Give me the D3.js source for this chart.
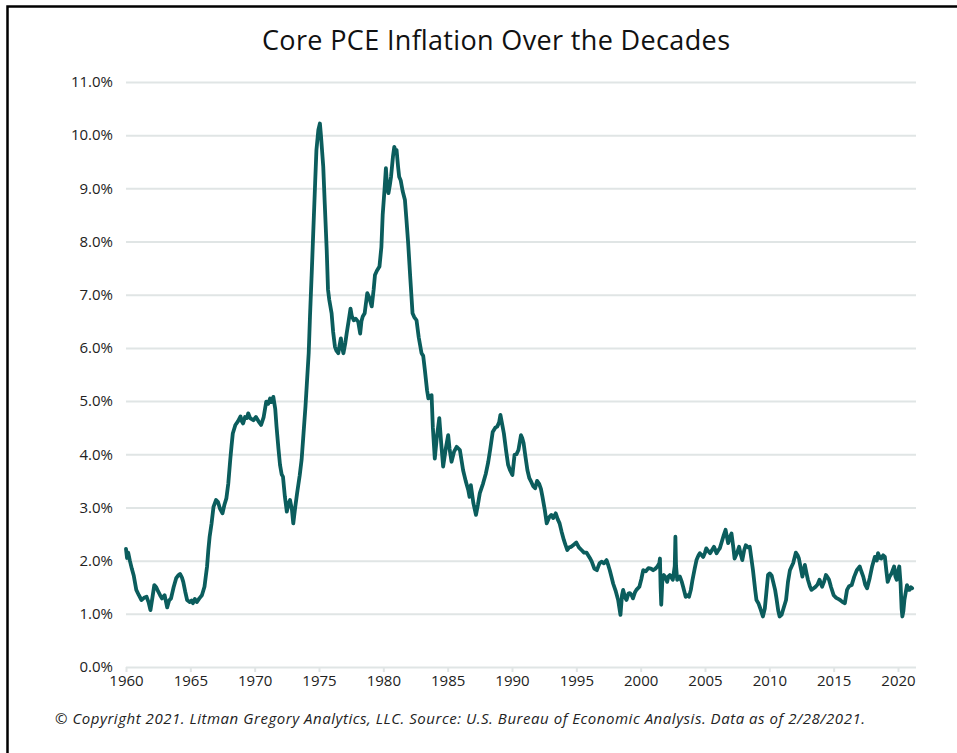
<!DOCTYPE html>
<html>
<head>
<meta charset="utf-8">
<script src="https://cdn.jsdelivr.net/npm/d3@7"></script>
<style>
    body { margin: 0; background: #fff; }
    svg { display: block; }
    .title { font-family: "Open Sans", Lato, sans-serif; font-size: 27px; font-weight: 400; fill: #111; }
    .tick text { font-family: "Open Sans", Lato, sans-serif; font-size: 15px; fill: #222; }
    .footer { font-family: "Open Sans", Lato, sans-serif; font-size: 15px; font-style: italic; fill: #222; }
</style>
</head>
<body>
<div id="chart"></div>
<script>
//Decimal year of each reading
var dates = [
    1960.00, 1960.08, 1960.17, 1960.30, 1960.45, 1960.60, 1960.80, 1961.00, 1961.20, 1961.40,
    1961.60, 1961.75, 1961.90, 1962.05, 1962.20, 1962.35, 1962.50, 1962.65, 1962.80, 1963.00,
    1963.20, 1963.35, 1963.50, 1963.70, 1963.90, 1964.05, 1964.20, 1964.35, 1964.45, 1964.60,
    1964.75, 1964.95, 1965.10, 1965.20, 1965.35, 1965.50, 1965.70, 1965.90, 1966.10, 1966.20,
    1966.30, 1966.40, 1966.50, 1966.65, 1966.80, 1967.00, 1967.15, 1967.30, 1967.50, 1967.65,
    1967.80, 1967.95, 1968.10, 1968.20, 1968.30, 1968.50, 1968.70, 1968.90, 1969.00, 1969.10,
    1969.25, 1969.40, 1969.50, 1969.65, 1969.90, 1970.10, 1970.30, 1970.50, 1970.70, 1970.90,
    1971.05, 1971.20, 1971.30, 1971.45, 1971.60, 1971.70, 1971.85, 1971.97, 1972.10, 1972.20,
    1972.35, 1972.50, 1972.60, 1972.75, 1972.90, 1973.00, 1973.15, 1973.30, 1973.50, 1973.65,
    1973.80, 1973.95, 1974.05, 1974.20, 1974.30, 1974.45, 1974.55, 1974.70, 1974.80, 1974.95,
    1975.07, 1975.15, 1975.33, 1975.45, 1975.60, 1975.70, 1975.80, 1975.98, 1976.10, 1976.24,
    1976.35, 1976.50, 1976.60, 1976.70, 1976.80, 1976.90, 1977.05, 1977.15, 1977.30, 1977.45,
    1977.55, 1977.70, 1977.85, 1978.05, 1978.20, 1978.30, 1978.40, 1978.55, 1978.75, 1978.90,
    1979.10, 1979.25, 1979.35, 1979.50, 1979.70, 1979.85, 1979.95, 1980.10, 1980.20, 1980.30,
    1980.40, 1980.50, 1980.60, 1980.75, 1980.85, 1980.95, 1981.03, 1981.15, 1981.23, 1981.35,
    1981.50, 1981.68, 1981.80, 1981.93, 1982.10, 1982.27, 1982.40, 1982.58, 1982.75, 1982.97,
    1983.10, 1983.23, 1983.40, 1983.50, 1983.65, 1983.75, 1983.85, 1984.00, 1984.15, 1984.35,
    1984.50, 1984.65, 1984.85, 1985.04, 1985.15, 1985.30, 1985.50, 1985.70, 1985.95, 1986.20,
    1986.40, 1986.60, 1986.70, 1986.80, 1987.00, 1987.20, 1987.35, 1987.50, 1987.75, 1987.97,
    1988.15, 1988.30, 1988.50, 1988.70, 1988.85, 1989.00, 1989.10, 1989.25, 1989.37, 1989.55,
    1989.70, 1989.85, 1990.03, 1990.20, 1990.35, 1990.50, 1990.70, 1990.80, 1990.90, 1991.05,
    1991.20, 1991.35, 1991.50, 1991.65, 1991.80, 1991.95, 1992.10, 1992.25, 1992.37, 1992.55,
    1992.70, 1992.90, 1993.06, 1993.20, 1993.40, 1993.55, 1993.70, 1993.85, 1994.03, 1994.15,
    1994.30, 1994.45, 1994.60, 1994.80, 1995.00, 1995.20, 1995.40, 1995.60, 1995.80, 1996.05,
    1996.20, 1996.40, 1996.60, 1996.80, 1996.96, 1997.15, 1997.35, 1997.50, 1997.60, 1997.75,
    1997.86, 1998.07, 1998.25, 1998.43, 1998.55, 1998.64, 1998.80, 1998.90, 1999.05, 1999.16,
    1999.30, 1999.40, 1999.55, 1999.67, 1999.90, 2000.05, 2000.20, 2000.40, 2000.60, 2000.80,
    2000.97, 2001.15, 2001.30, 2001.45, 2001.50, 2001.55, 2001.60, 2001.68, 2001.80, 2001.95,
    2002.06, 2002.15, 2002.27, 2002.40, 2002.50, 2002.65, 2002.70, 2002.75, 2002.84, 2003.05,
    2003.20, 2003.30, 2003.50, 2003.65, 2003.76, 2003.90, 2004.03, 2004.20, 2004.34, 2004.50,
    2004.60, 2004.75, 2004.86, 2005.00, 2005.10, 2005.25, 2005.40, 2005.55, 2005.70, 2005.90,
    2006.05, 2006.15, 2006.30, 2006.46, 2006.60, 2006.70, 2006.80, 2006.95, 2007.06, 2007.20,
    2007.30, 2007.50, 2007.65, 2007.80, 2007.90, 2008.05, 2008.17, 2008.35, 2008.48, 2008.60,
    2008.73, 2008.90, 2009.00, 2009.15, 2009.30, 2009.50, 2009.65, 2009.77, 2009.90, 2010.03,
    2010.18, 2010.30, 2010.45, 2010.55, 2010.70, 2010.80, 2010.95, 2011.10, 2011.30, 2011.45,
    2011.60, 2011.75, 2011.85, 2012.06, 2012.20, 2012.30, 2012.45, 2012.57, 2012.76, 2012.90,
    2013.00, 2013.15, 2013.27, 2013.45, 2013.60, 2013.75, 2013.90, 2014.10, 2014.25, 2014.40,
    2014.50, 2014.64, 2014.80, 2015.00, 2015.20, 2015.35, 2015.50, 2015.70, 2015.87, 2016.04,
    2016.20, 2016.40, 2016.60, 2016.80, 2017.03, 2017.15, 2017.30, 2017.45, 2017.60, 2017.80,
    2018.00, 2018.20, 2018.35, 2018.45, 2018.60, 2018.70, 2018.85, 2018.98, 2019.10, 2019.20,
    2019.35, 2019.50, 2019.70, 2019.80, 2019.90, 2020.00, 2020.10, 2020.20, 2020.28, 2020.34,
    2020.42, 2020.50, 2020.60, 2020.70, 2020.80, 2020.90, 2021.00, 2021.10
];

//Core PCE inflation, year over year, in percent
var inflation = [
    2.22, 2.05, 2.15, 2.00, 1.85, 1.72, 1.45, 1.35, 1.26, 1.30,
    1.32, 1.22, 1.07, 1.30, 1.54, 1.50, 1.42, 1.35, 1.29, 1.35,
    1.12, 1.25, 1.29, 1.50, 1.67, 1.72, 1.75, 1.68, 1.60, 1.42,
    1.26, 1.22, 1.25, 1.20, 1.28, 1.22, 1.29, 1.35, 1.51, 1.70,
    1.89, 2.20, 2.45, 2.70, 3.01, 3.14, 3.10, 2.98, 2.89, 3.05,
    3.17, 3.45, 3.89, 4.15, 4.39, 4.55, 4.62, 4.71, 4.62, 4.58,
    4.70, 4.68, 4.77, 4.68, 4.64, 4.70, 4.62, 4.55, 4.70, 4.99,
    4.95, 5.05, 4.98, 5.08, 4.85, 4.52, 4.10, 3.80, 3.62, 3.58,
    3.20, 2.92, 3.05, 3.14, 2.95, 2.70, 3.00, 3.27, 3.60, 3.90,
    4.40, 4.90, 5.30, 5.90, 6.59, 7.50, 8.15, 9.10, 9.72, 10.10,
    10.22, 10.00, 9.41, 8.70, 7.84, 7.10, 6.90, 6.65, 6.30, 6.02,
    5.95, 5.90, 6.05, 6.18, 6.00, 5.90, 6.10, 6.27, 6.50, 6.74,
    6.60, 6.52, 6.55, 6.49, 6.27, 6.50, 6.59, 6.65, 7.03, 6.95,
    6.78, 7.10, 7.37, 7.45, 7.53, 7.90, 8.50, 9.00, 9.38, 9.00,
    8.91, 9.05, 9.22, 9.60, 9.78, 9.70, 9.72, 9.40, 9.22, 9.15,
    8.95, 8.78, 8.40, 7.97, 7.30, 6.65, 6.58, 6.52, 6.20, 5.90,
    5.85, 5.58, 5.20, 5.05, 5.10, 5.11, 4.50, 3.92, 4.30, 4.68,
    4.20, 3.77, 4.10, 4.36, 4.10, 3.86, 4.05, 4.14, 4.08, 3.70,
    3.50, 3.33, 3.20, 3.42, 3.08, 2.86, 3.05, 3.27, 3.45, 3.64,
    3.85, 4.08, 4.42, 4.50, 4.52, 4.60, 4.74, 4.55, 4.39, 4.05,
    3.80, 3.70, 3.61, 3.99, 4.00, 4.08, 4.36, 4.30, 4.21, 3.95,
    3.70, 3.55, 3.48, 3.40, 3.36, 3.50, 3.45, 3.35, 3.20, 2.95,
    2.70, 2.82, 2.86, 2.80, 2.89, 2.78, 2.70, 2.55, 2.39, 2.30,
    2.20, 2.25, 2.26, 2.30, 2.34, 2.25, 2.20, 2.15, 2.15, 2.05,
    1.98, 1.85, 1.82, 1.95, 1.98, 1.95, 2.01, 1.90, 1.82, 1.68,
    1.57, 1.42, 1.26, 0.98, 1.35, 1.45, 1.30, 1.26, 1.38, 1.39,
    1.35, 1.29, 1.40, 1.45, 1.51, 1.65, 1.82, 1.80, 1.86, 1.85,
    1.82, 1.85, 1.89, 1.95, 2.04, 1.50, 1.17, 1.60, 1.73, 1.68,
    1.60, 1.70, 1.73, 1.68, 1.64, 1.90, 2.45, 1.90, 1.64, 1.70,
    1.60, 1.51, 1.32, 1.35, 1.32, 1.45, 1.64, 1.85, 2.01, 2.10,
    2.14, 2.10, 2.07, 2.15, 2.23, 2.18, 2.14, 2.20, 2.26, 2.14,
    2.20, 2.23, 2.35, 2.48, 2.58, 2.45, 2.33, 2.45, 2.51, 2.25,
    2.04, 2.15, 2.26, 2.10, 2.01, 2.20, 2.29, 2.25, 2.26, 2.05,
    1.82, 1.45, 1.26, 1.20, 1.10, 0.95, 1.10, 1.40, 1.73, 1.76,
    1.72, 1.60, 1.45, 1.30, 1.05, 0.95, 0.98, 1.10, 1.26, 1.60,
    1.82, 1.90, 1.95, 2.15, 2.10, 2.04, 1.85, 1.70, 1.92, 1.75,
    1.64, 1.52, 1.45, 1.48, 1.51, 1.55, 1.64, 1.51, 1.60, 1.73,
    1.70, 1.64, 1.50, 1.35, 1.30, 1.28, 1.26, 1.22, 1.20, 1.45,
    1.52, 1.54, 1.70, 1.82, 1.89, 1.80, 1.70, 1.55, 1.48, 1.67,
    1.90, 2.07, 2.00, 2.14, 2.05, 2.04, 2.10, 2.07, 1.80, 1.60,
    1.70, 1.76, 1.89, 1.70, 1.64, 1.80, 1.89, 1.57, 1.10, 0.95,
    1.05, 1.26, 1.40, 1.54, 1.45, 1.45, 1.50, 1.48
];

//Axis ticks
var yearTicks = [1960, 1965, 1970, 1975, 1980, 1985, 1990, 1995, 2000, 2005, 2010, 2015, 2020];
var pctTicks = [0, 1, 2, 3, 4, 5, 6, 7, 8, 9, 10, 11];

var titleText = "Core PCE Inflation Over the Decades";
var footerText = "\u00A9 Copyright 2021. Litman Gregory Analytics, LLC. Source: U.S. Bureau of Economic Analysis. Data as of 2/28/2021.";

var width = 957, height = 753;
var lineColor = "#0b5d5d", gridColor = "#e0e5e5";

var svg = d3.select("#chart").append("svg")
    .attr("width", width)
    .attr("height", height);

//Frame, open on the right and bottom like the source image
svg.append("path")
    .attr("d", "M7.5," + height + "V6.5H" + width)
    .attr("fill", "none")
    .attr("stroke", "#000")
    .attr("stroke-width", 2.5);

var x = d3.scaleLinear().domain([1960, 2021.4]).range([126, 916]);
var y = d3.scaleLinear().domain([0, 11]).range([667, 82]);

//Horizontal gridlines with the percent labels
var yAxis = svg.append("g")
    .attr("transform", "translate(126,0)")
    .call(d3.axisLeft(y)
        .tickValues(pctTicks)
        .tickSize(-(x.range()[1] - x.range()[0]))
        .tickPadding(13)
        .tickFormat(d => d.toFixed(1) + "%"));
yAxis.select(".domain").remove();
yAxis.selectAll(".tick line").attr("stroke", gridColor).attr("stroke-width", 2);

//Year axis, small ticks under the zero line
var xAxis = svg.append("g")
    .attr("transform", "translate(0,667)")
    .call(d3.axisBottom(x)
        .tickValues(yearTicks)
        .tickSize(5)
        .tickPadding(3)
        .tickFormat(d3.format("d")));
xAxis.select(".domain").remove();
xAxis.selectAll(".tick line").attr("stroke", gridColor).attr("stroke-width", 2);

//The inflation line
var points = dates.map((d, i) => [d, inflation[i]]);
var line = d3.line()
    .x(d => x(d[0]))
    .y(d => y(d[1]));

svg.append("path")
    .datum(points)
    .attr("d", line)
    .attr("fill", "none")
    .attr("stroke", lineColor)
    .attr("stroke-width", 3.8)
    .attr("stroke-linejoin", "round")
    .attr("stroke-linecap", "round");

svg.append("text")
    .attr("class", "title")
    .attr("x", 496)
    .attr("y", 50)
    .attr("text-anchor", "middle")
    .attr("textLength", 468)
    .attr("lengthAdjust", "spacing")
    .text(titleText);

svg.append("text")
    .attr("class", "footer")
    .attr("x", 55)
    .attr("y", 724)
    .attr("textLength", 810)
    .attr("lengthAdjust", "spacing")
    .text(footerText);
</script>
</body>
</html>
